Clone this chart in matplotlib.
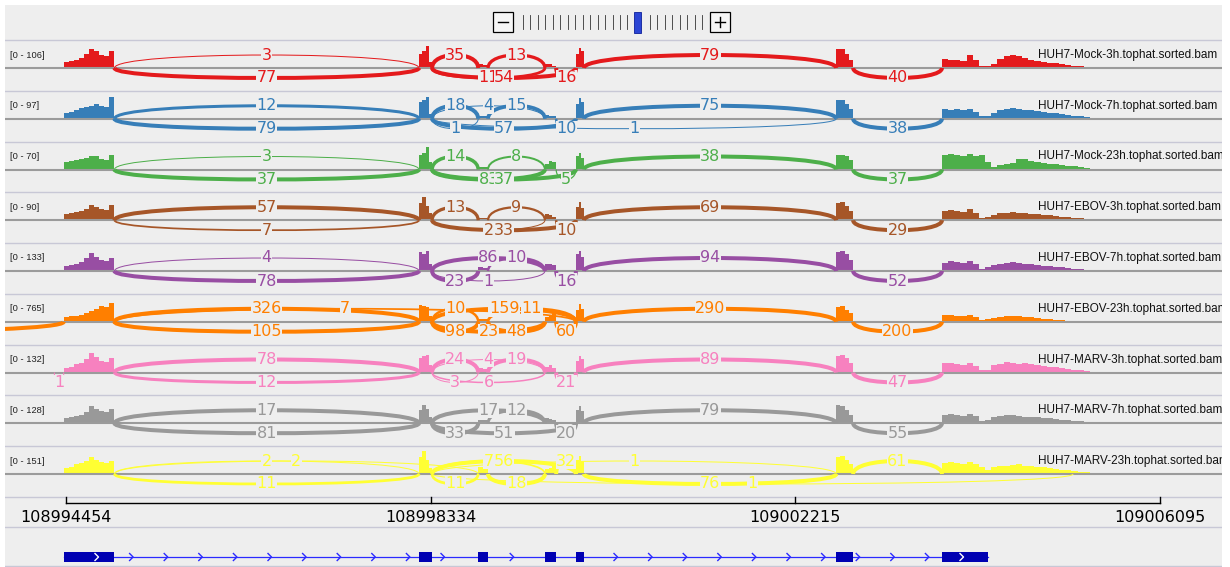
import numpy as np
import matplotlib.pyplot as plt
from matplotlib.path import Path
from matplotlib.patches import PathPatch, Rectangle

# genomic window shown and ruler
view_start, view_end = 108993805, 109006755
ruler_ticks = [108994454, 108998334, 109002215, 109006095]

# gene model (exon blocks)
exon_starts = [108994430, 108998210, 108998840, 108999550, 108999880, 109002650, 109003775]
exon_ends = [108994970, 108998350, 108998945, 108999670, 108999965, 109002830, 109004265]
cov_last_end = 109005350          # reads run on past the last block (3' UTR)
cov_bins = [10, 4, 2, 3, 3, 4, 24]  # coverage bins per covered block

samples = ["HUH7-Mock-3h.tophat.sorted.bam", "HUH7-Mock-7h.tophat.sorted.bam",
           "HUH7-Mock-23h.tophat.sorted.bam", "HUH7-EBOV-3h.tophat.sorted.bam",
           "HUH7-EBOV-7h.tophat.sorted.bam", "HUH7-EBOV-23h.tophat.sorted.bam",
           "HUH7-MARV-3h.tophat.sorted.bam", "HUH7-MARV-7h.tophat.sorted.bam",
           "HUH7-MARV-23h.tophat.sorted.bam"]
ranges = [106, 97, 70, 90, 133, 765, 132, 128, 151]
colors = ["#e41a1c", "#377eb8", "#4daf4a", "#a65628", "#984ea3",
          "#ff7f00", "#f781bf", "#999999", "#ffff33"]

# coverage, % of the track range, bins in block order
cov_mock3h = [25, 30, 33, 42, 60, 80, 72, 55, 50, 72, 60, 72, 92, 25, 15, 12, 18, 15, 10,
              60, 85, 72, 78, 78, 60, 35,
              38, 35, 33, 30, 55, 35, 8, 8, 18, 38, 50, 55, 48, 40, 32, 28, 24, 22, 20, 18, 14, 10, 8, 5]
cov_mock7h = [22, 30, 35, 45, 50, 55, 60, 55, 50, 90, 70, 80, 90, 20, 12, 10, 15, 12, 10,
              60, 85, 70, 80, 78, 62, 40,
              40, 38, 40, 35, 42, 30, 10, 12, 25, 35, 42, 45, 40, 38, 36, 33, 30, 25, 22, 18, 15, 12, 10, 6]
cov_mock23h = [30, 35, 40, 45, 50, 58, 55, 45, 40, 62, 60, 70, 95, 30, 12, 10, 25, 35, 30,
               55, 70, 50, 60, 62, 55, 40,
               60, 65, 62, 55, 65, 58, 62, 30, 10, 20, 22, 28, 42, 45, 35, 30, 28, 25, 22, 18, 16, 14, 10, 6]
cov_ebov3h = [25, 30, 35, 38, 45, 62, 55, 45, 42, 65, 70, 95, 60, 30, 10, 8, 25, 20, 15,
              55, 75, 50, 70, 75, 60, 40,
              40, 42, 38, 35, 45, 30, 8, 12, 20, 30, 32, 35, 30, 32, 28, 25, 22, 20, 18, 15, 12, 10, 8, 5]
cov_ebov7h = [20, 25, 30, 38, 55, 75, 60, 45, 40, 55, 80, 70, 85, 30, 15, 12, 30, 28, 25,
              70, 85, 60, 80, 82, 70, 45,
              35, 40, 38, 35, 42, 30, 10, 15, 25, 30, 35, 38, 33, 30, 28, 25, 22, 20, 18, 15, 12, 10, 8, 5]
cov_ebov23h = [18, 22, 25, 30, 35, 45, 55, 65, 60, 80, 70, 65, 60, 25, 12, 10, 20, 22, 40,
               50, 75, 55, 60, 65, 50, 35,
               30, 28, 25, 22, 28, 20, 8, 10, 15, 20, 22, 25, 22, 20, 18, 15, 12, 10, 8, 6, 5, 4, 3, 2]
cov_marv3h = [20, 25, 35, 40, 55, 80, 65, 50, 45, 60, 60, 70, 75, 30, 20, 15, 25, 30, 20,
              50, 70, 55, 70, 72, 60, 40,
              40, 38, 35, 32, 40, 28, 10, 12, 30, 35, 45, 40, 35, 40, 35, 30, 28, 25, 22, 18, 15, 12, 10, 6]
cov_marv7h = [20, 25, 30, 35, 45, 70, 60, 50, 45, 60, 55, 75, 60, 25, 15, 12, 20, 18, 15,
              55, 70, 50, 75, 70, 55, 35,
              35, 38, 35, 32, 40, 30, 8, 12, 25, 30, 33, 35, 30, 28, 26, 24, 22, 20, 18, 15, 12, 10, 8, 5]
cov_marv23h = [25, 30, 40, 45, 55, 70, 60, 50, 45, 55, 70, 95, 60, 25, 30, 25, 20, 25, 35,
               60, 75, 55, 70, 75, 60, 40,
               45, 48, 45, 42, 48, 40, 30, 15, 28, 32, 35, 38, 40, 35, 33, 30, 28, 25, 22, 18, 15, 12, 10, 8]

# junctions: (donor, acceptor, reads, side); small ints are exon indices,
# large ints are genomic positions outside the gene model
junc_mock3h = [(0, 1, 3, "up"), (0, 1, 77, "dn"), (1, 2, 35, "up"), (2, 3, 13, "up"),
               (1, 3, 11, "dn"), (1, 4, 54, "dn"), (3, 4, 16, "dn"), (4, 5, 79, "up"), (5, 6, 40, "dn")]
junc_mock7h = [(0, 1, 12, "up"), (0, 1, 79, "dn"), (1, 2, 18, "up"), (1, 2, 1, "dn"),
               (1, 3, 4, "up"), (2, 3, 15, "up"), (1, 4, 57, "dn"), (3, 4, 10, "dn"),
               (1, 5, 1, "dn"), (4, 5, 75, "up"), (5, 6, 38, "dn")]
junc_mock23h = [(0, 1, 3, "up"), (0, 1, 37, "dn"), (1, 2, 14, "up"), (2, 3, 8, "up"),
                (1, 3, 83, "dn"), (1, 4, 37, "dn"), (3, 4, 5, "dn"), (4, 5, 38, "up"), (5, 6, 37, "dn")]
junc_ebov3h = [(0, 1, 57, "up"), (0, 1, 7, "dn"), (1, 2, 13, "up"), (2, 3, 9, "up"),
               (1, 3, 2, "dn"), (1, 4, 33, "dn"), (3, 4, 10, "dn"), (4, 5, 69, "up"), (5, 6, 29, "dn")]
junc_ebov7h = [(0, 1, 4, "up"), (0, 1, 78, "dn"), (1, 3, 86, "up"), (2, 3, 10, "up"),
               (1, 2, 23, "dn"), (1, 3, 1, "dn"), (3, 4, 16, "dn"), (4, 5, 94, "up"), (5, 6, 52, "dn")]
junc_ebov23h = [(108990000, 0, 40, "dn"), (0, 1, 326, "up"), (0, 1, 105, "dn"), (0, 4, 7, "up"),
                (1, 2, 10, "up"), (1, 2, 98, "dn"), (1, 4, 159, "up"), (2, 4, 11, "up"),
                (1, 3, 23, "dn"), (2, 3, 48, "dn"), (3, 4, 60, "dn"), (4, 5, 290, "up"), (5, 6, 200, "dn")]
junc_marv3h = [(108994330, 0, 1, "dn"), (0, 1, 78, "up"), (0, 1, 12, "dn"), (1, 2, 24, "up"),
               (1, 2, 3, "dn"), (1, 3, 4, "up"), (2, 3, 19, "up"), (1, 3, 6, "dn"),
               (3, 4, 21, "dn"), (4, 5, 89, "up"), (5, 6, 47, "dn")]
junc_marv7h = [(0, 1, 17, "up"), (0, 1, 81, "dn"), (1, 3, 17, "up"), (2, 3, 12, "up"),
               (1, 2, 33, "dn"), (1, 4, 51, "dn"), (3, 4, 20, "dn"), (4, 5, 79, "up"), (5, 6, 55, "dn")]
junc_marv23h = [(0, 1, 2, "up"), (0, 2, 2, "up"), (0, 1, 11, "dn"), (1, 2, 11, "dn"),
                (1, 3, 7, "up"), (1, 4, 56, "up"), (2, 3, 18, "dn"), (3, 4, 32, "up"),
                (1, 5, 1, "up"), (4, 5, 76, "dn"), (1, 109005170, 1, "dn"), (5, 6, 61, "up")]

coverages = [cov_mock3h, cov_mock7h, cov_mock23h, cov_ebov3h, cov_ebov7h,
             cov_ebov23h, cov_marv3h, cov_marv7h, cov_marv23h]
junctions = [junc_mock3h, junc_mock7h, junc_mock23h, junc_ebov3h, junc_ebov7h,
             junc_ebov23h, junc_marv3h, junc_marv7h, junc_marv23h]

BG = "#eeeeee"
W, H = 1230, 567
bp_per_px = (view_end - view_start) / 1217.0


def gx(px):
    # screen pixel column -> genomic coordinate (for layout only)
    return view_start + (px - 5) * bp_per_px


fig = plt.figure(figsize=(W / 100, H / 100), dpi=100)
fig.patch.set_facecolor("white")
ax = fig.add_axes([5 / W, 0, 1217 / W, 562 / H])
ax.set_facecolor(BG)
ax.set_xlim(view_start, view_end)
ax.set_ylim(H, 5)
ax.set_xticks([])
ax.set_yticks([])
for s in ax.spines.values():
    s.set_visible(False)

# zoom widget on top
ax.add_patch(Rectangle((gx(493), 12), 20 * bp_per_px, 20, fc="#f6f6f6", ec="black", lw=0.9))
ax.plot([gx(498), gx(508)], [22, 22], color="black", lw=1)
ax.add_patch(Rectangle((gx(710), 12), 20 * bp_per_px, 20, fc="#f6f6f6", ec="black", lw=0.9))
ax.plot([gx(715), gx(725)], [22, 22], color="black", lw=1)
ax.plot([gx(720), gx(720)], [17, 27], color="black", lw=1)
for tx in np.linspace(523, 702, 25):
    if not 632 < tx < 643:
        ax.plot([gx(tx), gx(tx)], [15, 29], color="#333333", lw=0.6)
ax.add_patch(Rectangle((gx(634), 12), 7 * bp_per_px, 21, fc="#2b45d4", ec="#0b1f9a", lw=0.6))

cov_starts = exon_starts
cov_ends = exon_ends[:-1] + [cov_last_end]
apex_up, apex_dn = 13.0, 10.0
cov_px = 24.0
track_top0, track_h = 40.0, 50.75

for i, (name, rng, col) in enumerate(zip(samples, ranges, colors)):
    top = track_top0 + i * track_h
    base = top + 28
    ax.axhline(top, color="#c8c8d6", lw=1, zorder=1)

    # coverage histogram
    vals = np.array(coverages[i], dtype=float)
    k = 0
    for cs, ce, nb in zip(cov_starts, cov_ends, cov_bins):
        edges = np.linspace(cs, ce, nb + 1)
        ax.bar(edges[:-1], -vals[k:k + nb] / 100 * cov_px, width=np.diff(edges),
               bottom=base, align="edge", color=col, lw=0, zorder=2)
        k += nb
    ax.axhline(base, color="#9b9b9b", lw=1.5, zorder=2.5)

    # splice junction arcs
    for a, b, n, side in junctions[i]:
        x1 = exon_ends[a] if a < 100 else a
        x2 = exon_starts[b] if b < 100 else b
        sgn = 1 if side == "up" else -1
        hc = (apex_up if sgn > 0 else apex_dn) / 0.75
        yc = base - sgn * hc
        path = Path([(x1, base), (x1, yc), (x2, yc), (x2, base)],
                    [Path.MOVETO, Path.CURVE4, Path.CURVE4, Path.CURVE4])
        lw = np.clip(n / 4.0, 1.0, 4.0) * 0.72
        ax.add_patch(PathPatch(path, fill=False, ec=col, lw=lw, zorder=3))
        xm = (x1 + x2) / 2
        if view_start < xm < view_end:
            ax.text(xm, base - sgn * hc * 0.75, str(n), color=col, fontsize=11.5,
                    ha="center", va="center", zorder=4, clip_on=True,
                    bbox=dict(boxstyle="square,pad=0.02", fc=BG, ec="none"))

    ax.text(gx(10), top + 15, f"[0 - {rng}]", fontsize=6.7, family="Liberation Sans",
            color="#222222", ha="left", va="center", zorder=5)
    ax.text(gx(1038), top + 15, name, fontsize=8.5, family="Liberation Sans",
            color="#111111", ha="left", va="center", zorder=5, clip_on=True)

ax.axhline(track_top0 + 9 * track_h, color="#c8c8d6", lw=1, zorder=1)

# ruler
ax.plot([ruler_ticks[0], ruler_ticks[-1]], [503, 503], color="black", lw=1)
for t in ruler_ticks:
    ax.plot([t, t], [497, 503], color="black", lw=1)
    ax.text(t, 518, str(t), fontsize=11.5, ha="center", va="center", color="black")
ax.axhline(527, color="#c8c8d6", lw=1)
ax.axhline(565.5, color="#c8c8d6", lw=1)

# gene track
gy = 557
ax.plot([exon_starts[0], exon_ends[-1]], [gy, gy], color="#2a2aff", lw=0.9, zorder=2)
for s, e in zip(exon_starts, exon_ends):
    ax.add_patch(Rectangle((s, gy - 5), e - s, 10, fc="#0000b2", ec="none", zorder=3))
for cx in np.arange(gx(97), gx(990), 34.6 * bp_per_px):
    inside = [s <= cx - 3 * bp_per_px and cx + 3 * bp_per_px <= e
              for s, e in zip(exon_starts, exon_ends)]
    near = [s - 4 * bp_per_px < cx < e + 4 * bp_per_px for s, e in zip(exon_starts, exon_ends)]
    if any(inside):
        c = "white"
    elif any(near):
        continue
    else:
        c = "#2a2aff"
    ax.plot([cx - 2 * bp_per_px, cx + 1.5 * bp_per_px, cx - 2 * bp_per_px],
            [gy - 3.5, gy, gy + 3.5], color=c, lw=1, zorder=4)

fig.savefig("out.png", dpi=100, facecolor=fig.get_facecolor())
